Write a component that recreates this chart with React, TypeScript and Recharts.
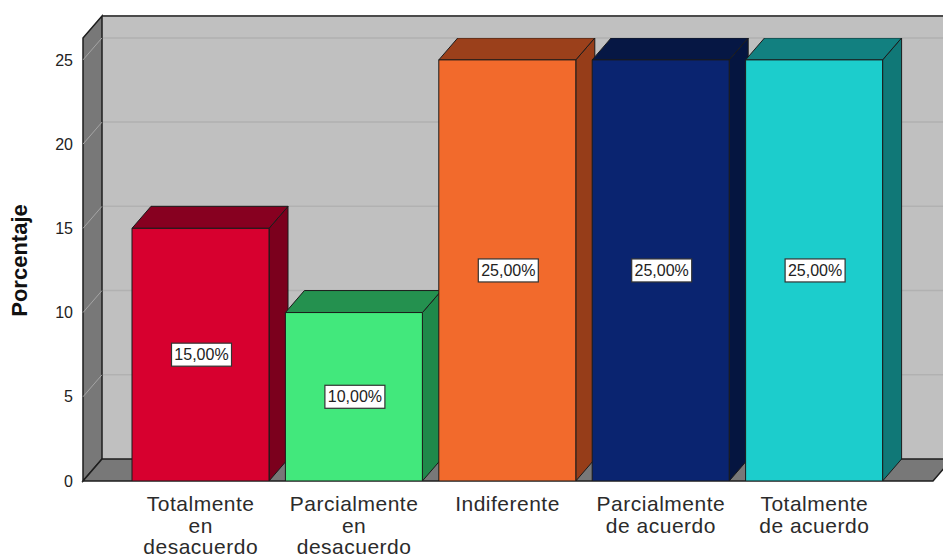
import { BarChart, Bar, XAxis, YAxis, ReferenceArea, LabelList } from 'recharts'

// categorías del eje X (saltos de línea = líneas de la etiqueta)
const categories = [
  'Totalmente\nen\ndesacuerdo',
  'Parcialmente\nen\ndesacuerdo',
  'Indiferente',
  'Parcialmente\nde acuerdo',
  'Totalmente\nde acuerdo',
]
const percentages = [15, 10, 25, 25, 25]
const yTicks = [0, 5, 10, 15, 20, 25]
const yMax = 26.3

// cara frontal, tapa y lateral de cada barra
const frontColors = ['#d7002f', '#42e87c', '#f26a2c', '#0a2470', '#1ccdcc']
const topColors = ['#870020', '#24914f', '#9b401b', '#061744', '#128080']
const sideColors = ['#7b001d', '#1f884a', '#963d19', '#051540', '#107877']

const data = categories.map((name, i) => ({ name, value: percentages[i] }))

const FONT = '"Liberation Sans", Arial, sans-serif'
const DX = 19 // profundidad 3D
const DY = 22
const PAD_L = 41
const PAD_R = 42

// paredes, suelo y rejilla del fondo
const Walls = (props: any) => {
  const { x, y, width, height } = props
  const left = x - PAD_L
  const right = x + width + PAD_R
  const bottom = y + height
  const tickYs = yTicks.filter((v) => v > 0).map((v) => bottom - (height * v) / yMax)
  return (
    <g>
      <rect x={left + DX} y={y - DY} width={right - left + 40} height={height} fill="#c0c0c0" />
      {tickYs.map((ty, i) => (
        <line key={`g${i}`} x1={left + DX} y1={ty - DY} x2={right + DX + 20} y2={ty - DY} stroke="#b1b1b1" strokeWidth={1.5} />
      ))}
      <line x1={left + DX} y1={y - DY} x2={right + DX + 20} y2={y - DY} stroke="#4b4b4b" strokeWidth={2} />
      <polygon
        points={`${left},${y} ${left + DX},${y - DY} ${left + DX},${bottom - DY} ${left},${bottom}`}
        fill="#787878"
        stroke="#1e1e1e"
        strokeWidth={1.5}
      />
      {tickYs.map((ty, i) => (
        <line key={`d${i}`} x1={left} y1={ty} x2={left + DX} y2={ty - DY} stroke="#a5a5a5" strokeWidth={1} />
      ))}
      <polygon
        points={`${left},${bottom} ${left + DX},${bottom - DY} ${right + DX},${bottom - DY} ${right},${bottom}`}
        fill="#787878"
        stroke="#1e1e1e"
        strokeWidth={1.5}
      />
    </g>
  )
}

const Bar3D = (props: any) => {
  const { x, y, width, height, index } = props
  const r = x + width
  const b = y + height
  return (
    <g stroke="#1b1b1b" strokeWidth={1} strokeLinejoin="round">
      <polygon points={`${r},${y} ${r + DX},${y - DY} ${r + DX},${b - DY} ${r},${b}`} fill={sideColors[index]} />
      <polygon points={`${x},${y} ${x + DX},${y - DY} ${r + DX},${y - DY} ${r},${y}`} fill={topColors[index]} />
      <rect x={x} y={y} width={width} height={height} fill={frontColors[index]} />
    </g>
  )
}

const ValueLabel = (props: any) => {
  const { x, y, width, height, value } = props
  const cx = Number(x) + Number(width) / 2
  const cy = Number(y) + Number(height) / 2
  const text = `${Number(value).toFixed(2).replace('.', ',')}%`
  return (
    <g>
      <rect x={cx - 29} y={cy - 11.5} width={60} height={23} fill="#fff" stroke="#333" strokeWidth={1.2} />
      <text x={cx + 1} y={cy} textAnchor="middle" dominantBaseline="central" fontSize={16} fontFamily={FONT} fill="#222">
        {text}
      </text>
    </g>
  )
}

const CategoryTick = (props: any) => {
  const { x, y, payload } = props
  const lines = String(payload.value).split('\n')
  return (
    <text x={x} y={y} textAnchor="middle" fontSize={21} letterSpacing={0.5} fontFamily={FONT} fill="#2b2b2b">
      {lines.map((line, i) => (
        <tspan key={i} x={x} dy={i === 0 ? 30 : 21.5}>
          {line}
        </tspan>
      ))}
    </text>
  )
}

const YTitle = (props: any) => {
  const vb = props.viewBox || { y: 38, height: 443 }
  const cy = vb.y + vb.height / 2 + 1
  return (
    <text
      x={27}
      y={cy}
      transform={`rotate(-90, 27, ${cy})`}
      textAnchor="middle"
      fontSize={22}
      fontWeight="bold"
      fontFamily={FONT}
      fill="#111"
    >
      Porcentaje
    </text>
  )
}

export default function App() {
  return (
    <div style={{ position: 'absolute', left: 0, top: 0, width: 943, height: 559, background: '#fff' }}>
      <BarChart width={943} height={559} data={data} margin={{ top: 38, right: 10, bottom: 0, left: 0 }}>
        <XAxis
          dataKey="name"
          padding={{ left: PAD_L, right: PAD_R }}
          axisLine={false}
          tickLine={false}
          tickSize={0}
          tickMargin={0}
          height={78}
          interval={0}
          tick={<CategoryTick />}
        />
        <YAxis
          domain={[0, yMax]}
          ticks={yTicks}
          width={83}
          axisLine={false}
          tickLine={false}
          tickSize={0}
          tickMargin={10}
          allowDataOverflow
          tick={{ fontSize: 16, fill: '#222', fontFamily: FONT }}
          label={{ content: (p: any) => <YTitle {...p} /> }}
        />
        <ReferenceArea y1={0} y2={yMax} ifOverflow="visible" shape={<Walls />} />
        <Bar dataKey="value" barSize={137} shape={<Bar3D />} isAnimationActive={false}>
          <LabelList dataKey="value" content={<ValueLabel />} />
        </Bar>
      </BarChart>
    </div>
  )
}
